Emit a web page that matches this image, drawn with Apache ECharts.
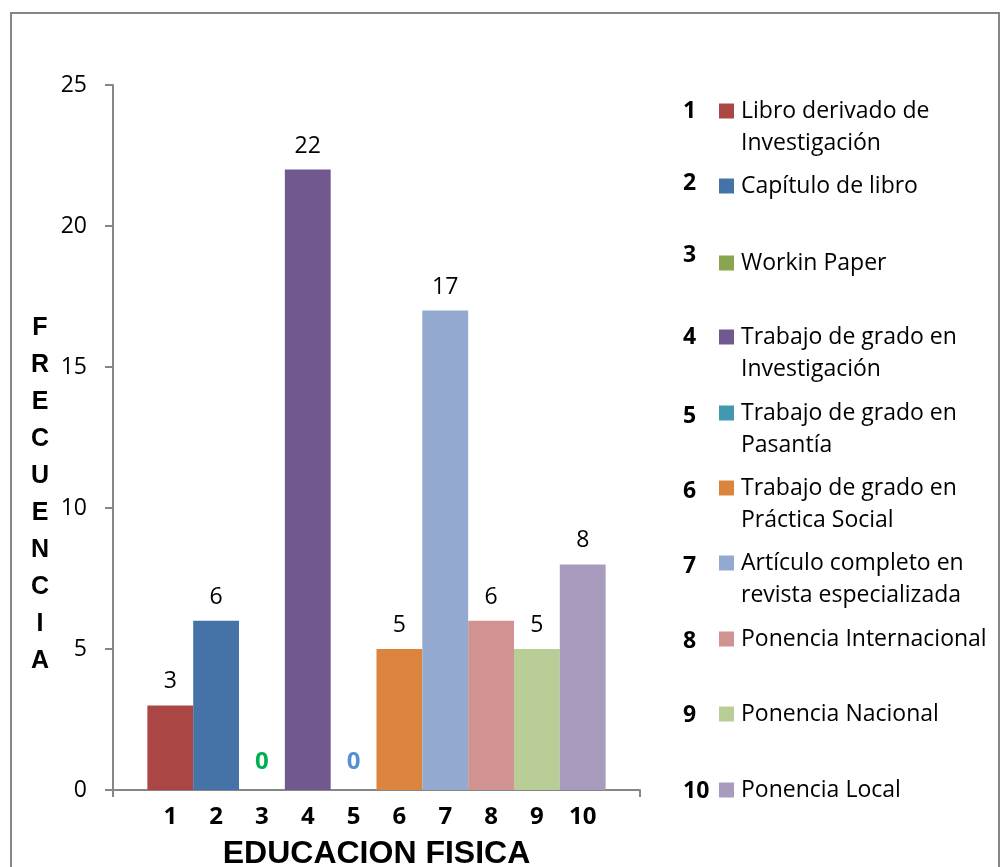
<!DOCTYPE html>
<html><head><meta charset="utf-8">
<script src="https://cdn.jsdelivr.net/npm/echarts@6/dist/echarts.min.js"></script>
<style>html,body{margin:0;padding:0;background:#fff}#c{width:1002px;height:867px}</style>
</head><body><div id="c"></div>
<script>
// ---- data ----
const categories = ['1','2','3','4','5','6','7','8','9','10'];
const seriesNames = [
  'Libro derivado de\nInvestigación',
  'Capítulo de libro',
  'Workin Paper',
  'Trabajo de grado en\nInvestigación',
  'Trabajo de grado en\nPasantía',
  'Trabajo de grado en\nPráctica Social',
  'Artículo completo en\nrevista especializada',
  'Ponencia Internacional',
  'Ponencia Nacional',
  'Ponencia Local'
];
const values = [3, 6, 0, 22, 0, 5, 17, 6, 5, 8];
const yTicks = [0, 5, 10, 15, 20, 25];
const yTitle = 'FRECUENCIA';
const xTitle = 'EDUCACION FISICA';

// ---- styles / layout ----
const barColors = ['#AA4643','#4572A7','#89A54E','#71588F','#4198AF','#DB843D','#93A9CF','#D19392','#B9CD96','#A99BBD'];
const zeroLabelColors = ['#000','#000','#00B050','#000','#558ED5','#000','#000','#000','#000','#000'];
const FONT = '"Open Sans", "Noto Sans", sans-serif';
const AXIS_COLOR = '#868686';
const G = {left: 113, top: 85, width: 527, height: 705};
const X_MIN = -0.25, X_MAX = 11.25;
const barW = G.width / (X_MAX - X_MIN);
const legendRowY = [111, 186, 263, 337, 413, 488, 563, 639, 714, 790];
const legendNumY = [111, 183, 255, 337, 416, 491, 566, 641, 715, 791];

const chart = echarts.init(document.getElementById('c'), null, {renderer: 'canvas'});

const barData = values.map((v, i) => ({
  value: [Number(categories[i]), v],
  itemStyle: {color: barColors[i]},
  label: v === 0
    ? {color: zeroLabelColors[i], fontWeight: 'bold', fontSize: 24, distance: 16}
    : {}
}));

const graphics = [
  {type: 'rect', shape: {x: 11, y: 13, width: 988, height: 900},
   style: {fill: 'none', stroke: AXIS_COLOR, lineWidth: 2}, silent: true, z: 0},
  {type: 'text', x: 40, y: 310,
   style: {text: yTitle.split('').join('\n'), textAlign: 'center', textVerticalAlign: 'top',
           font: 'bold 25px "Liberation Sans", Arial, sans-serif', lineHeight: 37, fill: '#000'}}
];
seriesNames.forEach((name, i) => {
  graphics.push({type: 'text', x: 683, y: legendNumY[i],
    style: {text: categories[i], textAlign: 'left', textVerticalAlign: 'middle',
            font: 'bold 23px ' + FONT, fill: '#000'}});
  graphics.push({type: 'rect', shape: {x: 719, y: legendRowY[i] - 7.5, width: 15, height: 15},
    style: {fill: barColors[i]}});
  graphics.push({type: 'text', x: 741, y: legendRowY[i] - 16,
    style: {text: name, textAlign: 'left', textVerticalAlign: 'top',
            font: '23px ' + FONT, lineHeight: 32, fill: '#000'}});
});

chart.setOption({
  animation: false,
  backgroundColor: '#fff',
  grid: {left: G.left, top: G.top, width: G.width, height: G.height, containLabel: false,
         outerBoundsMode: 'none'},
  xAxis: {
    type: 'value', min: X_MIN, max: X_MAX,
    axisLine: {show: true, onZero: false, lineStyle: {color: AXIS_COLOR, width: 2}},
    axisTick: {show: true, customValues: [X_MIN, X_MAX], length: 7, lineStyle: {color: AXIS_COLOR, width: 2}},
    axisLabel: {show: true, customValues: categories.map(Number),
      formatter: v => categories[Math.round(v) - 1],
      fontSize: 24, fontWeight: 'bold', color: '#000', fontFamily: FONT, margin: 15},
    splitLine: {show: false},
    name: xTitle, nameLocation: 'middle', nameGap: 48,
    nameTextStyle: {fontSize: 32, fontWeight: 'bold', color: '#000',
      fontFamily: '"Liberation Sans", Arial, sans-serif'}
  },
  yAxis: {
    type: 'value', min: yTicks[0], max: yTicks[yTicks.length - 1], interval: yTicks[1] - yTicks[0],
    axisLine: {show: true, onZero: false, lineStyle: {color: AXIS_COLOR, width: 2}},
    axisTick: {show: true, length: 8, lineStyle: {color: AXIS_COLOR, width: 2}},
    axisLabel: {fontSize: 23, color: '#000', fontFamily: FONT, margin: 26},
    splitLine: {show: false}
  },
  series: [{
    type: 'bar',
    barWidth: barW,
    data: barData,
    label: {show: true, position: 'top', distance: 12, fontSize: 23, color: '#000', fontFamily: FONT,
      formatter: p => String(p.value[1])}
  }],
  graphic: graphics
});
</script>
</body></html>
